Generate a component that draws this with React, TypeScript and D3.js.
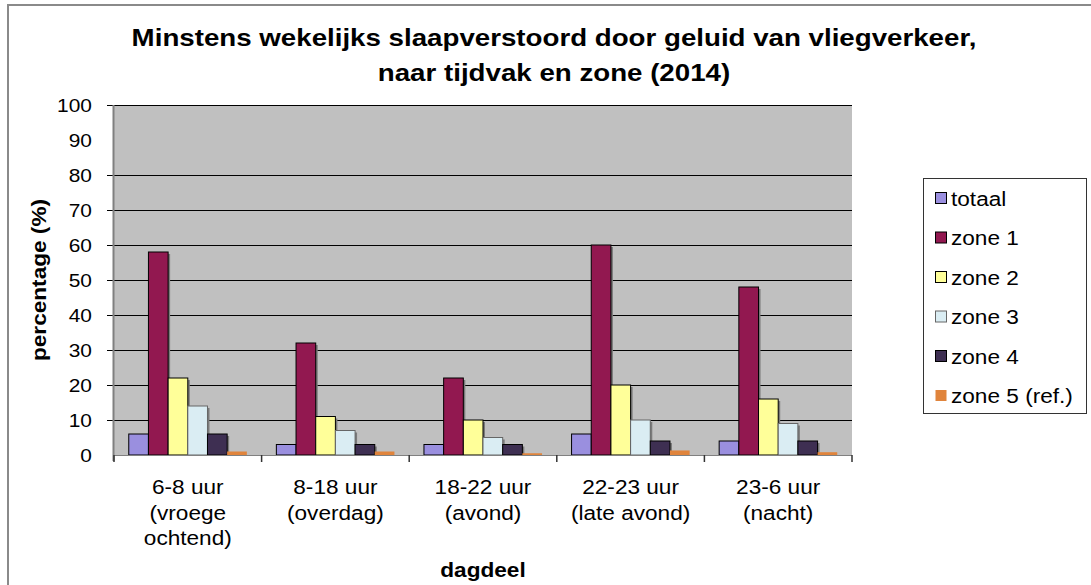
import React, { useEffect, useRef } from 'react';
import * as d3 from 'd3';

// categories (x axis) - each entry is the lines of the label
const categories = ['6-8', '8-18', '18-22', '22-23', '23-6'];
const categoryLabels = [
  ['6-8 uur', '(vroege', 'ochtend)'],
  ['8-18 uur', '(overdag)'],
  ['18-22 uur', '(avond)'],
  ['22-23 uur', '(late avond)'],
  ['23-6 uur', '(nacht)'],
];

const seriesNames = ['totaal', 'zone 1', 'zone 2', 'zone 3', 'zone 4', 'zone 5 (ref.)'];
const totaal = [6, 3, 3, 6, 4];
const zone1 = [58, 32, 22, 60, 48];
const zone2 = [22, 11, 10, 20, 16];
const zone3 = [14, 7, 5, 10, 9];
const zone4 = [6, 3, 3, 4, 4];
const zone5 = [1, 1, 0.5, 1.3, 0.8];

const yTicks = [0, 10, 20, 30, 40, 50, 60, 70, 80, 90, 100];
const gridValues = [10, 20, 30, 40, 50, 60, 70, 80, 100]; // no line at 90 in the original

const App = () => {
  const chartRef = useRef<SVGSVGElement>(null);

  useEffect(() => {
    const svg = d3.select(chartRef.current);
    svg.selectAll('*').remove();

    const width = 1091;
    const height = 585;
    const plotLeft = 114;
    const plotRight = 852;
    const plotTop = 105;
    const plotBottom = 455;
    const font = '"Liberation Sans", Arial, sans-serif';
    const stretch = 1.13; // the source picture is a bit wider than normal Arial

    const series = [totaal, zone1, zone2, zone3, zone4, zone5];
    const colors = ['#9a8fdf', '#921850', '#ffff99', '#daedf3', '#3e2f52', '#e0843c'];
    const strokes = ['#000', '#000', '#000', '#666', '#000', 'none'];

    // white page and grey frame
    svg.append('rect').attr('width', width).attr('height', height).attr('fill', '#fff');
    svg.append('rect')
      .attr('x', 8).attr('y', 5)
      .attr('width', 1200).attr('height', 700)
      .attr('fill', 'none')
      .attr('stroke', '#8a8a8a')
      .attr('stroke-width', 2);

    const x = d3.scaleBand().domain(categories).range([plotLeft, plotRight]);
    const xs = d3.scaleBand().domain(seriesNames).range([0, x.bandwidth()]).paddingOuter(0.75);
    const y = d3.scaleLinear().domain([0, 100]).range([plotBottom, plotTop]);

    // plot background
    svg.append('rect')
      .attr('x', plotLeft).attr('y', plotTop)
      .attr('width', plotRight - plotLeft).attr('height', plotBottom - plotTop)
      .attr('fill', '#c0c0c0');

    // gridlines (they run through the tick marks)
    svg.append('g')
      .selectAll('line')
      .data(gridValues)
      .join('line')
      .attr('x1', plotLeft - 7).attr('x2', plotRight)
      .attr('y1', d => Math.round(y(d)) + 0.5).attr('y2', d => Math.round(y(d)) + 0.5)
      .attr('stroke', '#000')
      .attr('stroke-width', 1);

    // y axis line
    svg.append('line')
      .attr('x1', plotLeft - 0.5).attr('x2', plotLeft - 0.5)
      .attr('y1', plotTop).attr('y2', plotBottom + 6)
      .attr('stroke', '#808080').attr('stroke-width', 2);

    // bars with a small grey shadow
    const groups = svg.append('g')
      .selectAll('g')
      .data(categories)
      .join('g')
      .attr('transform', d => `translate(${x(d)},0)`);

    groups.selectAll('rect.shadow')
      .data((_, i) => series.map((s, k) => ({ k, v: s[i] })))
      .join('rect')
      .attr('class', 'shadow')
      .attr('x', d => (xs(seriesNames[d.k]) as number) + 2)
      .attr('y', d => y(d.v) + 2)
      .attr('width', xs.bandwidth())
      .attr('height', d => Math.max(0, plotBottom - y(d.v) - 2))
      .attr('fill', d => (d.k === 5 ? 'none' : '#7a7a7a'));

    groups.selectAll('rect.bar')
      .data((_, i) => series.map((s, k) => ({ k, v: s[i] })))
      .join('rect')
      .attr('class', 'bar')
      .attr('x', d => xs(seriesNames[d.k]) as number)
      .attr('y', d => y(d.v))
      .attr('width', xs.bandwidth())
      .attr('height', d => plotBottom - y(d.v))
      .attr('fill', d => colors[d.k])
      .attr('stroke', d => strokes[d.k])
      .attr('stroke-width', 1);

    // x axis line + category ticks
    svg.append('line')
      .attr('x1', plotLeft).attr('x2', plotRight)
      .attr('y1', plotBottom + 0.5).attr('y2', plotBottom + 0.5)
      .attr('stroke', '#808080');
    svg.append('g')
      .selectAll('line')
      .data([...categories.map(c => x(c) as number), plotRight])
      .join('line')
      .attr('x1', d => d).attr('x2', d => d)
      .attr('y1', plotBottom).attr('y2', plotBottom + 7)
      .attr('stroke', '#333')
      .attr('stroke-width', 1.5);

    // y tick labels
    svg.append('g')
      .selectAll('text')
      .data(yTicks)
      .join('text')
      .attr('class', 'st')
      .attr('x', plotLeft - 22)
      .attr('y', d => y(d) + 6.5)
      .attr('text-anchor', 'end')
      .attr('font-family', font)
      .attr('font-size', 18.5)
      .attr('fill', '#000')
      .text(d => d);

    // category labels
    categoryLabels.forEach((lines, i) => {
      const cx = (x(categories[i]) as number) + x.bandwidth() / 2;
      lines.forEach((line, j) => {
        svg.append('text')
          .attr('class', 'st')
          .attr('x', cx)
          .attr('y', 494 + j * 25.5)
          .attr('text-anchor', 'middle')
          .attr('font-family', font)
          .attr('font-size', 20)
          .text(line);
      });
    });

    // axis titles
    svg.append('text')
      .attr('class', 'st')
      .attr('x', (plotLeft + plotRight) / 2)
      .attr('y', 577)
      .attr('text-anchor', 'middle')
      .attr('font-family', font)
      .attr('font-size', 20)
      .attr('font-weight', 'bold')
      .text('dagdeel');

    svg.append('text')
      .attr('class', 'st')
      .attr('transform', `translate(46,${(plotTop + plotBottom) / 2}) rotate(-90)`)
      .attr('text-anchor', 'middle')
      .attr('font-family', font)
      .attr('font-size', 20)
      .attr('font-weight', 'bold')
      .text('percentage (%)');

    // title
    const titleLines = ['Minstens wekelijks slaapverstoord door geluid van vliegverkeer,', 'naar tijdvak en zone (2014)'];
    titleLines.forEach((line, j) => {
      svg.append('text')
        .attr('class', 'st')
        .attr('x', 554)
        .attr('y', 46 + j * 35)
        .attr('text-anchor', 'middle')
        .attr('font-family', font)
        .attr('font-size', 24.5)
        .attr('font-weight', 'bold')
        .text(line);
    });

    // legend
    const legend = svg.append('g').attr('transform', 'translate(923,178)');
    legend.append('rect')
      .attr('x', 0.5).attr('y', 0.5)
      .attr('width', 163).attr('height', 235)
      .attr('fill', '#fff')
      .attr('stroke', '#333');
    seriesNames.forEach((name, k) => {
      const cy = 20 + k * 39.5;
      legend.append('rect')
        .attr('x', 12.5).attr('y', cy - 5.5)
        .attr('width', 11).attr('height', 11)
        .attr('fill', colors[k])
        .attr('stroke', strokes[k]);
      legend.append('text')
        .attr('class', 'st')
        .attr('x', 28)
        .attr('y', cy + 7.5)
        .attr('font-family', font)
        .attr('font-size', 20)
        .text(name);
    });

    // widen the text a bit like the source
    svg.selectAll<SVGTextElement, unknown>('text.st').each(function () {
      const len = this.getComputedTextLength();
      d3.select(this).attr('textLength', len * stretch).attr('lengthAdjust', 'spacingAndGlyphs');
    });
  }, []);

  return (
    <svg
      ref={chartRef}
      width={1091}
      height={585}
      style={{ position: 'absolute', left: 0, top: 0, display: 'block' }}
    />
  );
};

export default App;
